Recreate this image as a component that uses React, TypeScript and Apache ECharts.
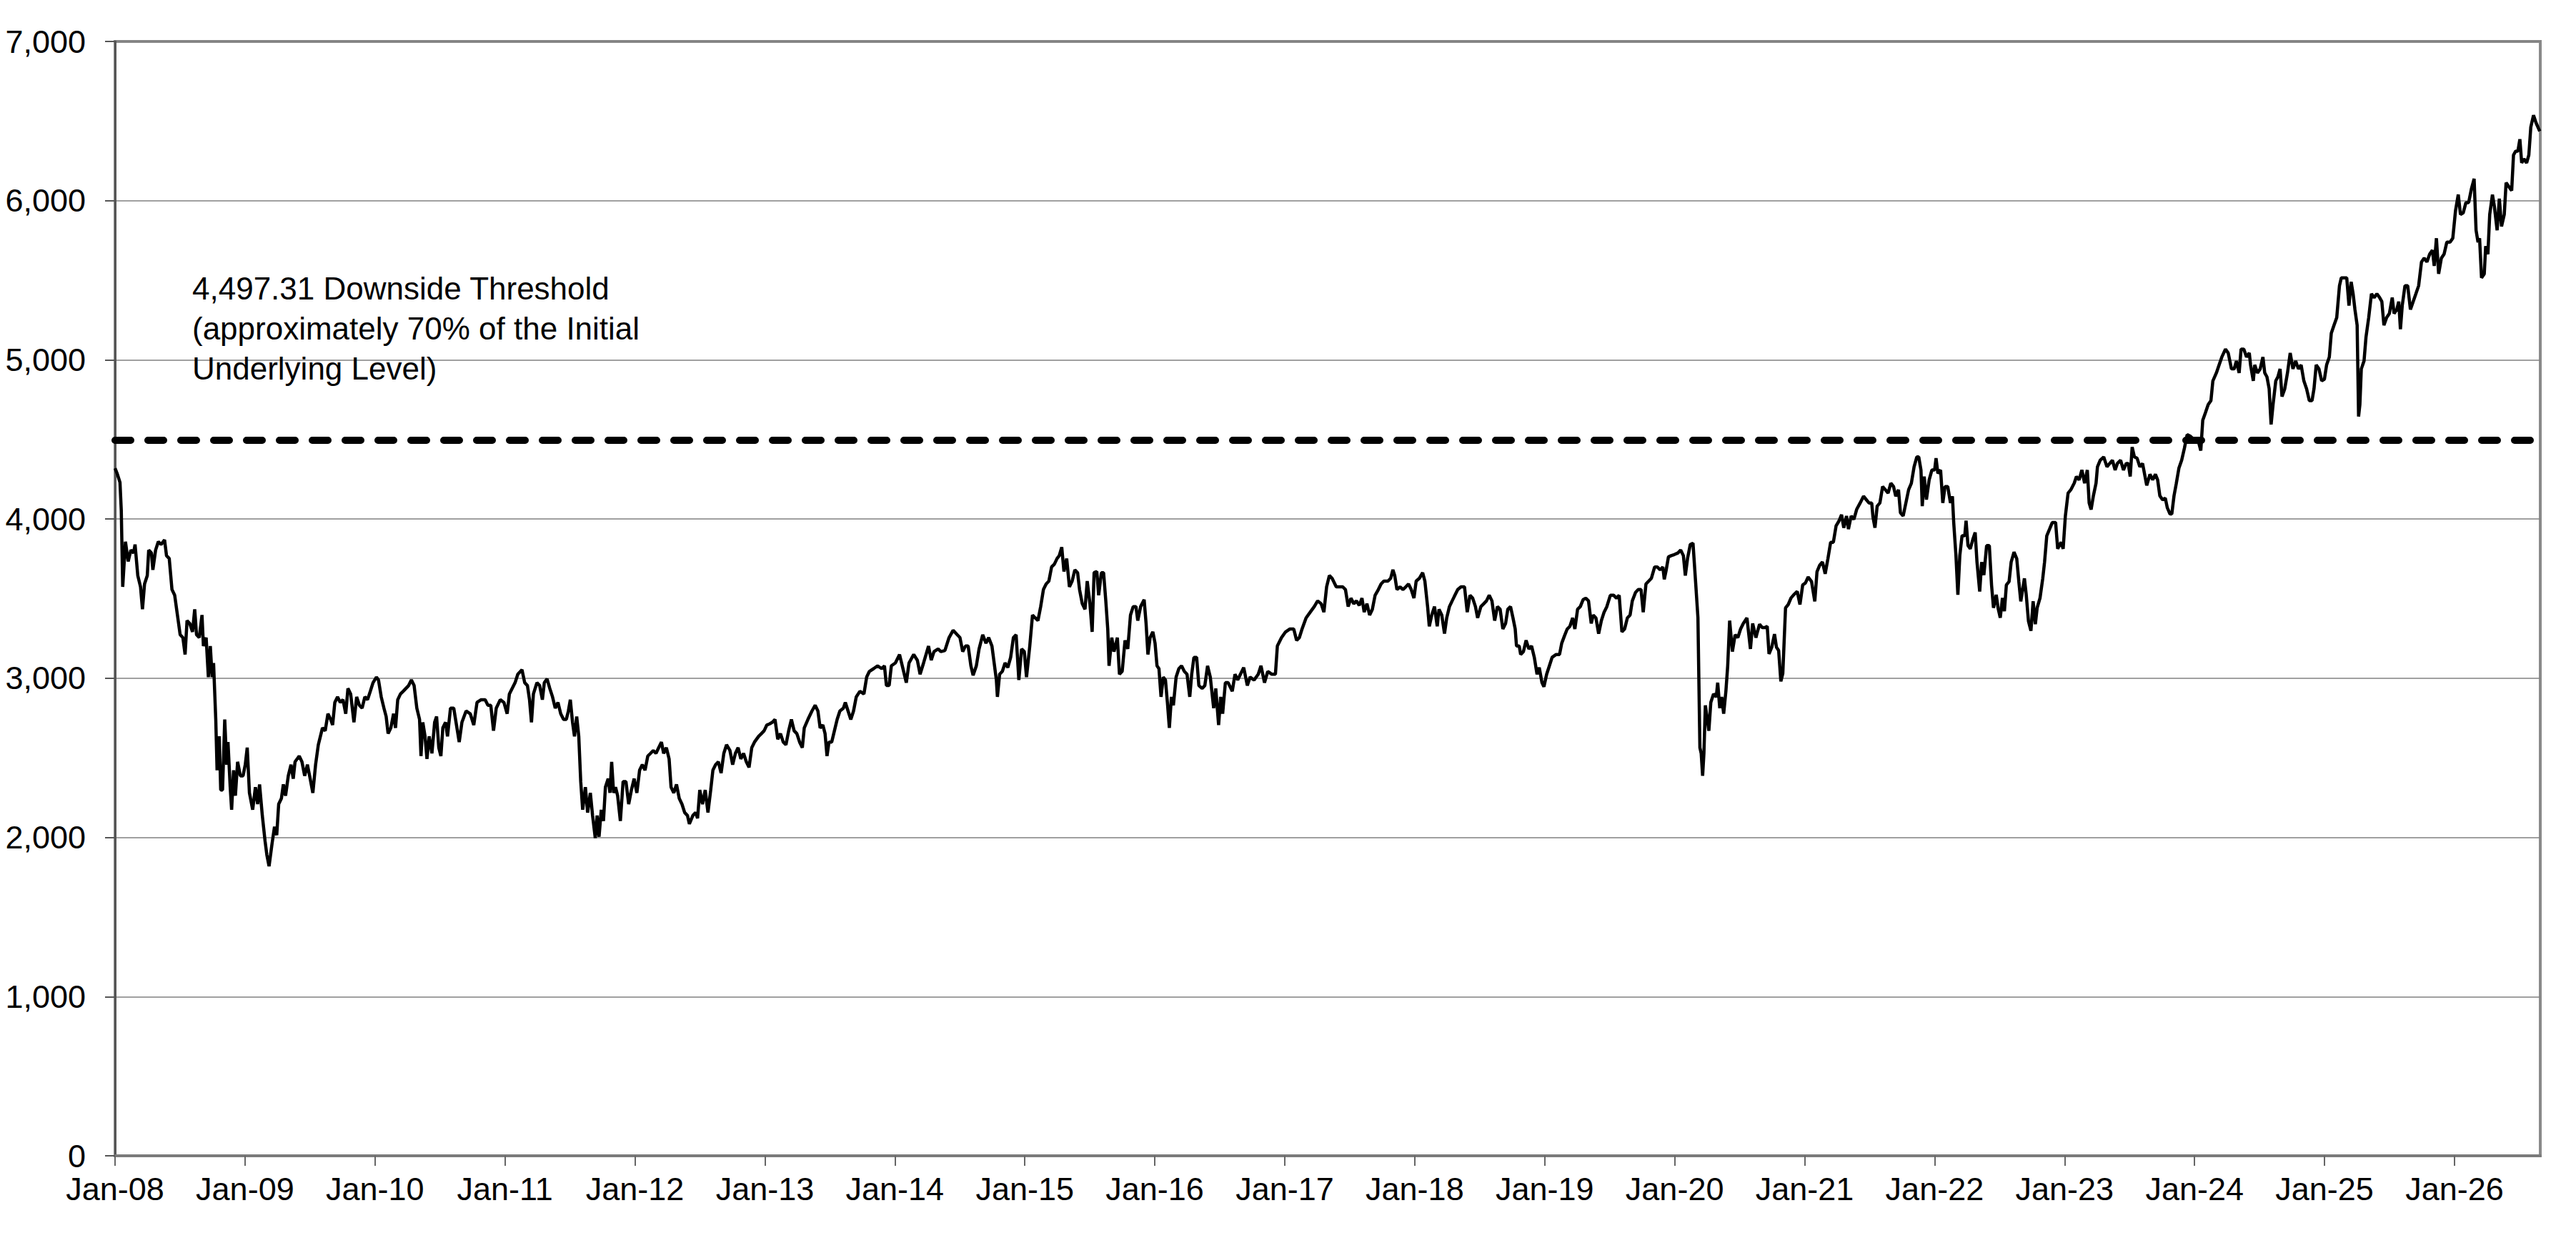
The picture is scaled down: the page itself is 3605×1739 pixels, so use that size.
import React, { useEffect, useRef } from "react";
import * as echarts from "echarts";

// Index level readings, [decimal year, level]
const seg2008to2011: [number, number][] = [
  [2008.000,4319],[2008.017,4284],[2008.038,4230],[2008.048,4053],[2008.059,3574],[2008.080,3858],[2008.101,3734],[2008.122,3805],[2008.143,3787],[2008.154,3840],[2008.175,3645],[2008.196,3574],[2008.211,3433],[2008.227,3592],[2008.248,3645],[2008.259,3805],[2008.280,3787],[2008.291,3681],[2008.312,3805],[2008.333,3858],[2008.354,3840],[2008.381,3869],[2008.396,3770],[2008.417,3752],[2008.438,3557],[2008.459,3521],[2008.480,3397],[2008.501,3273],[2008.522,3255],[2008.539,3149],[2008.554,3362],[2008.575,3344],[2008.596,3291],[2008.613,3433],[2008.627,3273],[2008.648,3255],[2008.669,3397],[2008.680,3202],[2008.701,3255],[2008.718,3007],[2008.733,3202],[2008.747,3007],[2008.758,3096],[2008.775,2741],[2008.785,2422],[2008.802,2635],[2008.813,2298],[2008.827,2298],[2008.844,2741],[2008.859,2457],[2008.869,2599],[2008.886,2316],[2008.897,2174],[2008.912,2422],[2008.926,2262],[2008.943,2475],[2008.964,2387],[2008.985,2387],
  [2009.002,2457],[2009.017,2564],[2009.034,2280],[2009.059,2174],[2009.080,2316],[2009.097,2209],[2009.112,2333],[2009.133,2138],[2009.154,1979],[2009.168,1890],[2009.185,1819],[2009.208,1961],[2009.227,2067],[2009.244,2014],[2009.259,2209],[2009.280,2245],[2009.295,2333],[2009.312,2262],[2009.333,2387],[2009.354,2457],[2009.371,2369],[2009.385,2475],[2009.417,2511],[2009.438,2475],[2009.459,2387],[2009.480,2457],[2009.497,2387],[2009.522,2280],[2009.543,2457],[2009.564,2582],[2009.596,2688],[2009.617,2670],[2009.638,2777],[2009.659,2741],[2009.674,2706],[2009.691,2848],[2009.712,2883],[2009.733,2848],[2009.754,2865],[2009.775,2777],[2009.792,2936],[2009.813,2901],[2009.838,2723],[2009.859,2883],[2009.880,2830],[2009.901,2812],[2009.922,2883],[2009.943,2865],[2009.964,2918],[2009.985,2972],
  [2010.011,3007],[2010.027,2989],[2010.048,2883],[2010.069,2812],[2010.086,2759],[2010.101,2652],[2010.122,2688],[2010.143,2777],[2010.158,2688],[2010.175,2865],[2010.196,2901],[2010.217,2918],[2010.238,2936],[2010.259,2954],[2010.280,2989],[2010.301,2954],[2010.322,2812],[2010.343,2741],[2010.354,2511],[2010.368,2723],[2010.385,2635],[2010.400,2493],[2010.417,2635],[2010.438,2528],[2010.459,2723],[2010.474,2759],[2010.491,2564],[2010.507,2511],[2010.522,2688],[2010.543,2723],[2010.558,2635],[2010.581,2812],[2010.606,2812],[2010.627,2706],[2010.648,2599],[2010.669,2723],[2010.701,2794],[2010.733,2777],[2010.760,2706],[2010.785,2848],[2010.817,2865],[2010.848,2865],[2010.869,2830],[2010.891,2830],[2010.912,2670],[2010.933,2812],[2010.964,2865],[2010.992,2848],
  [2011.017,2777],[2011.034,2901],
];

const seg2011to2014: [number, number][] = [
  [2011.078,2972],[2011.099,3025],[2011.131,3053],[2011.152,2972],[2011.173,2954],[2011.189,2865],[2011.204,2723],[2011.219,2901],[2011.246,2972],[2011.267,2954],[2011.288,2865],[2011.303,2972],[2011.324,2996],[2011.345,2936],[2011.366,2883],[2011.387,2812],[2011.408,2848],[2011.429,2777],[2011.451,2741],[2011.472,2741],[2011.488,2794],[2011.503,2865],[2011.520,2723],[2011.535,2635],[2011.552,2759],[2011.568,2635],[2011.583,2351],[2011.598,2174],[2011.619,2316],[2011.636,2156],[2011.657,2280],[2011.674,2138],[2011.695,1996],[2011.709,2138],[2011.724,2004],[2011.741,2174],[2011.758,2103],[2011.773,2316],[2011.794,2369],[2011.808,2280],[2011.821,2475],[2011.836,2280],[2011.851,2316],[2011.867,2262],[2011.888,2103],[2011.909,2351],[2011.931,2351],[2011.952,2209],[2011.973,2298],[2011.994,2369],
  [2012.015,2280],[2012.036,2422],[2012.057,2457],[2012.078,2422],[2012.099,2511],[2012.120,2528],[2012.141,2546],[2012.162,2528],[2012.183,2564],[2012.204,2599],[2012.221,2528],[2012.242,2564],[2012.263,2493],[2012.278,2316],[2012.299,2280],[2012.320,2333],[2012.341,2245],[2012.362,2209],[2012.383,2156],[2012.404,2138],[2012.419,2085],[2012.446,2138],[2012.467,2156],[2012.482,2120],[2012.499,2298],[2012.520,2209],[2012.541,2298],[2012.562,2156],[2012.583,2298],[2012.600,2422],[2012.621,2457],[2012.642,2475],[2012.663,2404],[2012.684,2528],[2012.705,2582],[2012.731,2546],[2012.752,2457],[2012.773,2528],[2012.794,2564],[2012.815,2493],[2012.836,2528],[2012.857,2475],[2012.878,2440],[2012.899,2564],[2012.920,2599],[2012.952,2635],[2012.973,2652],[2012.994,2670],
  [2013.015,2706],[2013.036,2713],[2013.057,2723],[2013.078,2741],[2013.099,2617],[2013.120,2652],[2013.141,2599],[2013.162,2582],[2013.183,2670],[2013.204,2741],[2013.225,2670],[2013.246,2652],[2013.267,2599],[2013.288,2564],[2013.303,2688],[2013.331,2741],[2013.362,2794],[2013.387,2830],[2013.408,2794],[2013.425,2688],[2013.446,2706],[2013.463,2652],[2013.478,2511],[2013.493,2599],[2013.514,2599],[2013.535,2670],[2013.556,2741],[2013.577,2794],[2013.604,2812],[2013.619,2848],[2013.640,2794],[2013.661,2741],[2013.682,2794],[2013.703,2883],[2013.731,2918],[2013.762,2901],[2013.783,3007],[2013.804,3043],[2013.836,3060],[2013.867,3078],[2013.899,3060],[2013.920,3078],[2013.935,2954],[2013.956,2954],[2013.973,3078],
  [2014.004,3096],[2014.036,3149],[2014.057,3078],[2014.088,2972],[2014.109,3096],[2014.145,3149],[2014.173,3113],[2014.194,3025],[2014.221,3096],
];

const seg2014to2017: [number, number][] = [
  [2014.259,3202],[2014.280,3113],[2014.301,3167],[2014.333,3184],[2014.354,3167],[2014.385,3174],[2014.417,3255],[2014.448,3301],[2014.480,3273],[2014.501,3255],[2014.522,3167],[2014.543,3202],[2014.564,3202],[2014.585,3078],[2014.602,3018],[2014.627,3078],[2014.648,3184],[2014.676,3273],[2014.701,3220],[2014.722,3255],[2014.747,3202],[2014.764,3096],[2014.781,2989],[2014.789,2883],[2014.806,3025],[2014.827,3043],[2014.848,3096],[2014.869,3067],[2014.891,3131],[2014.912,3255],[2014.933,3273],[2014.954,2989],[2014.975,3184],[2014.996,3167],
  [2015.013,3007],[2015.038,3202],[2015.059,3397],[2015.080,3379],[2015.101,3362],[2015.122,3450],[2015.143,3557],[2015.164,3592],[2015.185,3610],[2015.206,3699],[2015.227,3716],[2015.248,3752],[2015.265,3770],[2015.284,3823],[2015.301,3670],[2015.322,3752],[2015.343,3574],[2015.364,3610],[2015.385,3681],[2015.406,3663],[2015.421,3557],[2015.442,3468],[2015.463,3433],[2015.480,3610],[2015.501,3468],[2015.518,3291],[2015.533,3663],[2015.554,3670],[2015.568,3521],[2015.589,3663],[2015.606,3663],[2015.623,3486],[2015.638,3309],[2015.648,3078],[2015.669,3255],[2015.686,3167],[2015.712,3255],[2015.728,3025],[2015.749,3043],[2015.771,3238],[2015.792,3184],[2015.813,3397],[2015.834,3450],[2015.855,3450],[2015.869,3362],[2015.891,3450],[2015.918,3493],[2015.933,3344],[2015.947,3149],[2015.964,3255],[2015.985,3291],
  [2016.002,3220],[2016.017,3078],[2016.032,3060],[2016.048,2883],[2016.065,3007],[2016.082,2989],[2016.097,2848],[2016.112,2688],[2016.128,2883],[2016.143,2830],[2016.164,3007],[2016.185,3060],[2016.206,3078],[2016.227,3043],[2016.248,3025],[2016.269,2883],[2016.284,3025],[2016.301,3131],[2016.322,3131],[2016.339,2954],[2016.364,2936],[2016.385,2954],[2016.406,3078],[2016.427,3007],[2016.453,2812],[2016.469,2936],[2016.491,2706],[2016.507,2883],[2016.522,2777],[2016.543,2972],[2016.564,2972],[2016.596,2918],[2016.617,3025],[2016.638,2989],[2016.659,3025],[2016.684,3067],[2016.712,2954],[2016.733,3007],[2016.764,2989],[2016.796,3025],[2016.817,3078],[2016.844,2972],[2016.869,3043],[2016.901,3025],[2016.928,3025],[2016.943,3202],[2016.975,3255],
  [2017.006,3291],[2017.038,3309],[2017.069,3309],[2017.091,3238],[2017.112,3255],[2017.133,3309],[2017.164,3379],[2017.196,3415],[2017.227,3450],[2017.253,3486],[2017.280,3468],[2017.301,3415],[2017.322,3574],[2017.343,3645],[2017.364,3628],[2017.396,3574],[2017.427,3574],
];

const seg2017to2020: [number, number][] = [
  [2017.446,3574],[2017.467,3557],[2017.488,3450],[2017.509,3503],[2017.531,3468],[2017.552,3486],[2017.573,3457],[2017.594,3503],[2017.611,3415],[2017.632,3468],[2017.653,3397],[2017.674,3433],[2017.695,3521],[2017.720,3557],[2017.741,3592],[2017.762,3610],[2017.794,3610],[2017.815,3628],[2017.832,3681],[2017.846,3645],[2017.863,3557],[2017.888,3574],[2017.909,3557],[2017.931,3574],[2017.952,3592],[2017.973,3557],[2017.994,3503],
  [2018.011,3610],[2018.036,3628],[2018.061,3663],[2018.078,3610],[2018.099,3450],[2018.112,3326],[2018.131,3397],[2018.152,3450],[2018.173,3326],[2018.187,3433],[2018.208,3397],[2018.229,3280],[2018.246,3379],[2018.267,3450],[2018.288,3486],[2018.309,3521],[2018.331,3557],[2018.356,3574],[2018.383,3574],[2018.404,3415],[2018.425,3521],[2018.446,3503],[2018.467,3450],[2018.484,3379],[2018.509,3450],[2018.531,3468],[2018.552,3486],[2018.573,3521],[2018.594,3486],[2018.615,3362],[2018.636,3450],[2018.657,3433],[2018.678,3309],[2018.699,3344],[2018.716,3433],[2018.737,3450],[2018.756,3379],[2018.773,3309],[2018.783,3202],[2018.804,3202],[2018.815,3149],[2018.836,3167],[2018.857,3238],[2018.878,3184],[2018.899,3202],[2018.920,3131],[2018.941,3025],[2018.958,3067],[2018.979,2972],[2018.994,2947],
  [2019.015,3025],[2019.036,3078],[2019.057,3131],[2019.088,3149],[2019.114,3149],[2019.131,3220],[2019.152,3266],[2019.173,3309],[2019.194,3326],[2019.215,3379],[2019.232,3309],[2019.253,3433],[2019.274,3450],[2019.295,3493],[2019.316,3503],[2019.337,3486],[2019.358,3344],[2019.373,3397],[2019.394,3379],[2019.415,3280],[2019.436,3362],[2019.457,3415],[2019.478,3450],[2019.505,3521],[2019.531,3521],[2019.552,3503],[2019.573,3521],[2019.594,3291],[2019.615,3309],[2019.636,3379],[2019.657,3397],[2019.674,3486],[2019.699,3539],[2019.720,3557],[2019.741,3557],[2019.758,3415],[2019.779,3592],[2019.800,3610],[2019.821,3628],[2019.846,3699],[2019.867,3699],[2019.888,3681],[2019.909,3699],[2019.920,3621],[2019.935,3681],[2019.952,3762],[2019.973,3770],[2019.998,3777],
  [2020.025,3787],[2020.046,3805],[2020.067,3770],[2020.082,3645],[2020.099,3752],[2020.120,3840],[2020.141,3848],[2020.162,3592],[2020.179,3379],[2020.194,2564],[2020.204,2528],[2020.215,2387],[2020.225,2528],[2020.236,2830],[2020.251,2741],[2020.263,2670],[2020.278,2848],[2020.299,2901],[2020.320,2883],[2020.331,2972],[2020.347,2812],[2020.362,2883],[2020.377,2777],[2020.394,2918],[2020.408,3078],[2020.423,3362],[2020.444,3167],[2020.465,3273],[2020.486,3255],[2020.507,3309],[2020.528,3344],[2020.556,3379],[2020.583,3184],[2020.600,3344],[2020.625,3255],
];

const seg2020to2023: [number, number][] = [
  [2020.632,3277],[2020.653,3339],[2020.674,3318],[2020.695,3318],[2020.712,3326],[2020.726,3153],[2020.747,3195],[2020.768,3277],[2020.783,3195],[2020.800,3174],[2020.817,2980],[2020.832,3030],[2020.853,3442],[2020.874,3463],[2020.895,3504],[2020.916,3524],[2020.943,3545],[2020.964,3463],[2020.985,3586],
  [2021.006,3598],[2021.027,3636],[2021.053,3607],[2021.078,3483],[2021.095,3669],[2021.116,3710],[2021.137,3730],[2021.158,3656],[2021.179,3751],[2021.200,3854],[2021.221,3854],[2021.242,3957],[2021.263,3986],[2021.284,4027],[2021.301,3945],[2021.322,4019],[2021.337,3937],[2021.358,4019],[2021.379,3998],[2021.400,4060],[2021.427,4101],[2021.453,4143],[2021.474,4122],[2021.495,4101],[2021.516,4101],[2021.526,4011],[2021.541,3945],[2021.558,4081],[2021.579,4101],[2021.600,4204],[2021.621,4184],[2021.642,4163],[2021.663,4225],[2021.684,4204],[2021.701,4143],[2021.722,4184],[2021.737,4040],[2021.758,4019],[2021.779,4101],[2021.800,4184],[2021.821,4225],[2021.842,4328],[2021.863,4390],[2021.878,4390],[2021.895,4308],[2021.905,4081],[2021.920,4267],[2021.937,4122],[2021.958,4246],[2021.979,4308],
  [2022.000,4308],[2022.011,4382],[2022.025,4287],[2022.046,4308],[2022.063,4101],[2022.080,4204],[2022.101,4204],[2022.122,4101],[2022.137,4143],[2022.147,3978],[2022.164,3772],[2022.179,3524],[2022.194,3772],[2022.211,3895],[2022.232,3895],[2022.242,3990],[2022.257,3833],[2022.274,3813],[2022.295,3874],[2022.312,3916],[2022.326,3730],[2022.347,3545],[2022.362,3730],[2022.379,3648],[2022.400,3833],[2022.421,3833],[2022.438,3586],[2022.453,3442],[2022.474,3524],[2022.488,3442],[2022.505,3380],[2022.522,3504],[2022.537,3421],[2022.552,3586],[2022.573,3607],[2022.589,3730],[2022.611,3792],[2022.632,3751],[2022.648,3607],[2022.663,3483],[2022.691,3627],[2022.705,3524],[2022.722,3359],[2022.741,3298],[2022.758,3483],[2022.775,3339],[2022.789,3442],[2022.811,3504],[2022.832,3627],[2022.846,3730],[2022.863,3895],[2022.884,3936],[2022.905,3978],[2022.931,3978],[2022.947,3813],[2022.973,3854],[2022.989,3813],
  [2023.006,4019],[2023.027,4163],[2023.048,4184],[2023.074,4225],[2023.091,4267],[2023.112,4246],[2023.133,4308],[2023.154,4225],[2023.175,4308],[2023.189,4101],[2023.204,4060],[2023.221,4143],[2023.242,4225],[2023.253,4328],[2023.274,4369],[2023.301,4390],[2023.326,4328],[2023.347,4349],[2023.368,4369],[2023.389,4308],[2023.406,4349],[2023.431,4369],[2023.453,4308],[2023.474,4349],[2023.490,4349],[2023.505,4267],[2023.520,4452],[2023.537,4390],[2023.558,4382],[2023.579,4328],[2023.600,4349],
];

const seg2023to2026: [number, number][] = [
  [2023.632,4211],[2023.657,4281],[2023.678,4246],[2023.699,4281],[2023.716,4246],[2023.733,4146],[2023.754,4121],[2023.775,4131],[2023.790,4072],[2023.811,4032],[2023.825,4032],[2023.842,4146],[2023.859,4221],[2023.880,4321],[2023.901,4370],[2023.922,4445],[2023.943,4530],[2023.968,4520],[2023.989,4505],
  [2024.011,4495],[2024.032,4480],[2024.048,4430],[2024.063,4620],[2024.084,4669],[2024.105,4719],[2024.126,4744],[2024.141,4868],[2024.168,4918],[2024.189,4968],[2024.210,5018],[2024.238,5067],[2024.259,5043],[2024.284,4943],[2024.305,4943],[2024.322,4993],[2024.343,4918],[2024.358,5067],[2024.379,5067],[2024.400,5018],[2024.421,5043],[2024.431,4968],[2024.452,4868],[2024.463,4968],[2024.484,4918],[2024.505,4943],[2024.526,5018],[2024.540,4918],[2024.557,4893],[2024.574,4818],[2024.589,4594],[2024.604,4719],[2024.625,4868],[2024.641,4893],[2024.658,4943],[2024.673,4769],[2024.694,4818],[2024.715,4918],[2024.736,5043],[2024.757,4943],[2024.778,4993],[2024.799,4943],[2024.820,4968],[2024.841,4868],[2024.862,4818],[2024.883,4744],[2024.904,4744],[2024.919,4818],[2024.936,4968],[2024.957,4943],[2024.978,4868],[2024.999,4878],
  [2025.016,4968],[2025.037,5018],[2025.052,5167],[2025.073,5217],[2025.094,5266],[2025.115,5465],[2025.129,5515],[2025.150,5515],[2025.171,5515],[2025.188,5341],[2025.205,5490],[2025.220,5415],[2025.234,5316],[2025.251,5217],[2025.262,4644],[2025.272,4719],[2025.283,4943],[2025.304,4993],[2025.319,5142],[2025.340,5266],[2025.361,5415],[2025.382,5391],[2025.403,5415],[2025.424,5391],[2025.441,5366],[2025.457,5217],[2025.478,5266],[2025.499,5291],[2025.521,5391],[2025.535,5291],[2025.556,5316],[2025.571,5366],[2025.584,5192],[2025.598,5341],[2025.619,5465],[2025.640,5465],[2025.661,5316],[2025.682,5366],[2025.703,5415],[2025.724,5465],[2025.746,5615],[2025.767,5639],[2025.788,5615],[2025.809,5664],[2025.830,5689],[2025.844,5590],[2025.861,5764],[2025.878,5540],[2025.899,5639],[2025.920,5664],[2025.941,5739],[2025.966,5739],[2025.987,5764],
  [2026.008,5938],[2026.029,6038],[2026.046,5913],[2026.067,5923],[2026.088,5988],[2026.109,5988],[2026.130,6073],[2026.151,6137],[2026.166,5814],[2026.181,5739],[2026.193,5764],[2026.208,5515],[2026.229,5540],[2026.240,5714],[2026.257,5664],[2026.271,5913],[2026.292,6038],[2026.307,5963],[2026.328,5814],[2026.345,6013],[2026.362,5838],[2026.383,5913],[2026.397,6113],[2026.419,6087],[2026.440,6063],[2026.454,6287],[2026.471,6311],[2026.488,6311],[2026.503,6386],[2026.517,6237],[2026.534,6262],[2026.555,6237],[2026.572,6287],[2026.587,6461],[2026.608,6536],[2026.629,6486],[2026.656,6436],
];

const THRESHOLD = 4497.31;
const X_MIN = 2008;
const X_MAX = 2026.66;
const YEAR_TICKS = [2008, 2009, 2010, 2011, 2012, 2013, 2014, 2015, 2016, 2017, 2018, 2019, 2020, 2021, 2022, 2023, 2024, 2025, 2026];
const Y_MIN = 0;
const Y_MAX = 7000;
const Y_STEP = 1000;
const ANNOTATION = "4,497.31 Downside Threshold\n(approximately 70% of the Initial\nUnderlying Level)";

const FONT = "'Liberation Sans', Arial, Helvetica, sans-serif";

export default function App() {
  const ref = useRef<HTMLDivElement>(null);

  useEffect(() => {
    if (!ref.current) return;
    const chart = echarts.init(ref.current, undefined, { renderer: "svg" });
    const data = [
      ...seg2008to2011,
      ...seg2011to2014,
      ...seg2014to2017,
      ...seg2017to2020,
      ...seg2020to2023,
      ...seg2023to2026,
    ];
    chart.setOption({
      animation: false,
      backgroundColor: "#ffffff",
      grid: {
        left: 161,
        right: 50,
        top: 58,
        bottom: 122,
        show: true,
        borderColor: "#8a8a8a",
        borderWidth: 4,
        backgroundColor: "transparent",
      },
      xAxis: {
        type: "value",
        min: X_MIN,
        max: X_MAX,
        interval: 1,
        axisLine: { show: true, lineStyle: { color: "#7a7a7a", width: 4 } },
        axisTick: {
          show: true,
          length: 14,
          customValues: YEAR_TICKS,
          lineStyle: { color: "#666666", width: 2 },
        },
        axisLabel: {
          customValues: YEAR_TICKS,
          formatter: (v: number) => "Jan-" + String(Math.round(v)).slice(2),
          fontSize: 45,
          fontFamily: FONT,
          color: "#000000",
          margin: 24,
        },
        splitLine: { show: false },
      },
      yAxis: {
        type: "value",
        min: Y_MIN,
        max: Y_MAX,
        interval: Y_STEP,
        axisLine: { show: true, lineStyle: { color: "#555555", width: 3 } },
        axisTick: { show: true, length: 14, lineStyle: { color: "#555555", width: 2 } },
        axisLabel: {
          formatter: (v: number) => v.toLocaleString("en-US"),
          fontSize: 45,
          fontFamily: FONT,
          color: "#000000",
          margin: 41,
        },
        splitLine: { show: true, lineStyle: { color: "#808080", width: 1.5 } },
      },
      series: [
        {
          type: "line",
          data,
          showSymbol: false,
          symbol: "none",
          sampling: undefined,
          lineStyle: { color: "#000000", width: 4.5, join: "bevel" },
          z: 3,
          markLine: {
            silent: true,
            symbol: ["none", "none"],
            label: { show: false },
            lineStyle: { color: "#000000", width: 10, type: [22, 24], cap: "round" },
            data: [{ yAxis: THRESHOLD }],
            z: 2,
          },
        },
      ],
      graphic: [
        {
          type: "text",
          left: 269,
          top: 375,
          style: {
            text: ANNOTATION,
            font: `44px ${FONT}`,
            fontSize: 44,
            fontFamily: FONT,
            lineHeight: 56,
            fill: "#000000",
          },
          z: 10,
        },
      ],
    });
    return () => chart.dispose();
  }, []);

  return (
    <div
      ref={ref}
      style={{ position: "absolute", left: 0, top: 0, width: 3605, height: 1739, background: "#fff" }}
    />
  );
}
